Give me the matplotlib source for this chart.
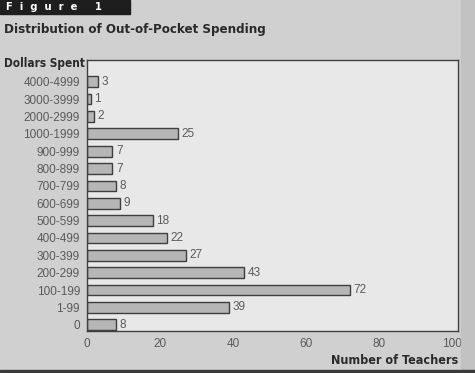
import matplotlib.pyplot as plt
import numpy as np

categories = ['0', '1-99', '100-199', '200-299', '300-399', '400-499', '500-599',
              '600-699', '700-799', '800-899', '900-999', '1000-1999',
              '2000-2999', '3000-3999', '4000-4999']
counts = [8, 39, 72, 43, 27, 22, 18, 9, 8, 7, 7, 25, 2, 1, 3]
xticks = [0, 20, 40, 60, 80, 100]

page_bg = '#d0d0d0'
axes_bg = '#e8e8e8'

fig = plt.figure(figsize=(4.75, 3.73), dpi=100)
fig.patch.set_facecolor(page_bg)

# darker margin on the right and page edge at the bottom (scan look)
fig.patches.append(plt.Rectangle((461 / 475, 0), 14 / 475, 1,
                                 transform=fig.transFigure, color='#c2c2c2', zorder=0))
fig.patches.append(plt.Rectangle((0, 0), 1, 3 / 373,
                                 transform=fig.transFigure, color='#3a3a3a', zorder=0))

ax = fig.add_axes([0.183, 0.113, 0.781, 0.726])
ax.set_facecolor(axes_bg)

y = np.arange(len(categories))
ax.barh(y, counts, height=0.62, color='#b6b6b6', edgecolor='#3e3e3e', linewidth=1.0)
for yi, v in zip(y, counts):
    ax.text(v + 1.0, yi, str(v), va='center', ha='left', fontsize=8.5,
            family='Liberation Sans', color='#5a5a5a')

ax.set_xlim(0, 101.6)
ax.set_ylim(-0.35, len(categories) - 1 + 1.25)
ax.set_yticks(y)
ax.set_yticklabels(categories, family='Liberation Sans', fontsize=8.5, color='#5a5a5a')
ax.set_xticks(xticks)
ax.set_xticklabels([str(t) for t in xticks], family='Liberation Sans', fontsize=8.5, color='#5a5a5a')
ax.tick_params(length=0, pad=5)
for s in ax.spines.values():
    s.set_color('#404040')
    s.set_linewidth(1.0)

hdr = dict(family='DejaVu Sans', stretch='condensed', weight='bold')

# header block
fig.patches.append(plt.Rectangle((0, 1 - 14 / 373), 130 / 475, 14 / 373,
                                 transform=fig.transFigure, color='#1e1e1e'))
fig.text(6 / 475, 1 - 7 / 373, 'F  i  g  u  r  e     1', color='white', fontsize=8,
         va='center', ha='left', **hdr)
fig.text(4 / 475, 1 - 30 / 373, 'Distribution of Out-of-Pocket Spending', color='#2a2a2a',
         fontsize=9.5, va='center', ha='left', **hdr)
fig.text(4 / 475, 1 - 63 / 373, 'Dollars Spent', color='#2a2a2a',
         fontsize=8.5, va='center', ha='left', **hdr)
fig.text(458 / 475, 1 - 361 / 373, 'Number of Teachers', color='#2a2a2a',
         fontsize=9, va='center', ha='right', **hdr)

fig.savefig('out.png', dpi=100, facecolor=page_bg)
